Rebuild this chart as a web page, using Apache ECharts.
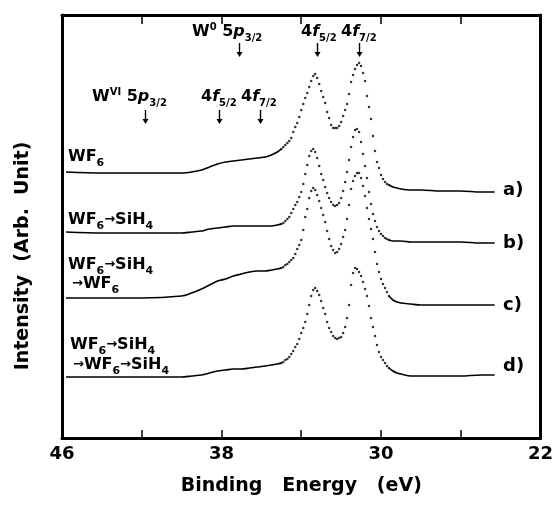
<!DOCTYPE html>
<html>
<head>
<meta charset="utf-8">
<script src="https://cdn.jsdelivr.net/npm/echarts@6/dist/echarts.min.js"></script>
<style>
html,body{margin:0;padding:0;background:#fff}
#main{width:556px;height:510px}
</style>
</head>
<body>
<div id="main"></div>
<script>
var FONT = '"DejaVu Sans", "Liberation Sans", Arial, sans-serif';

// energies (eV) of the dotted (peak) region, one point per step
var dotE = [35.0,34.9,34.8,34.7,34.6,34.5,34.4,34.3,34.2,34.1,34.0,33.9,33.8,33.7,33.6,33.5,33.4,33.3,33.2,33.1,
            33.0,32.9,32.8,32.7,32.6,32.5,32.4,32.3,32.2,32.1,32.0,31.9,31.8,31.7,31.6,31.5,31.4,31.3,31.2,31.1,
            31.0,30.9,30.8,30.7,30.6,30.5,30.4,30.3,30.2,30.1,30.0,29.9,29.8,29.7,29.6];
// energies of the solid background parts
var leftE  = [45.8,44,42,40,39.5,39,38.6,38.2,37.8,37.4,37,36.6,36.2,35.8,35.5,35.2,35.0];
var rightE = [29.6,29.4,29.2,29.0,28.5,28,27,26,25,24.3];

// a) WF6
var leftA  = [267,266,266,266,267,269,272,275,277,278,279,280,281,282,284,287,290];
var dotsA  = [290,292,294,296,298,301,307,312,316,322,329,335,341,346,352,358,363,365,361,355,
              348,342,336,327,321,314,311,311,311,313,317,323,329,335,345,357,364,370,374,376,
              373,366,358,343,332,320,303,288,277,271,264,260,257,255,254];
var rightA = [254,252,251,250,249,249,248,248,247,247];
// b) WF6 -> SiH4
var leftB  = [207,206,206,206,207,208,210,211,212,213,213,213,213,213,213,214,215];
var dotsB  = [215,216,218,220,222,226,230,234,237,242,247,255,265,274,283,288,290,287,281,273,
              265,259,252,246,241,237,234,233,234,236,241,248,257,267,279,292,302,309,310,307,
              297,285,273,261,247,235,225,218,212,208,205,203,201,200,199];
var rightB = [199,198,198,198,197,197,197,197,196,196];
// c) WF6 -> SiH4 -> WF6
var leftC  = [141,141,141,143,146,150,154,158,160,163,165,167,168,168,169,170,171];
var dotsC  = [171,172,174,175,177,179,181,185,190,194,199,209,222,230,241,248,251,249,244,238,
              231,224,217,208,200,193,189,186,187,190,195,202,209,220,234,250,258,263,266,266,
              261,253,243,231,220,210,200,187,175,167,160,155,151,147,143];
var rightC = [143,139,137,136,135,134,134,134,134,134];
// d) WF6 -> SiH4 -> WF6 -> SiH4
var leftD  = [62,62,62,62,63,64,66,68,69,70,70,71,72,73,74,75,76];
var dotsD  = [76,77,79,80,82,85,88,92,95,100,106,111,117,125,134,143,149,151,148,144,
              138,131,125,117,111,107,103,101,100,101,102,106,112,121,134,154,166,171,170,167,
              163,157,150,143,133,121,112,103,94,87,82,79,76,73,71];
var rightD = [71,68,66,65,63,63,63,63,64,64];

// peak positions marked with arrows (eV)
var arrowE = [37.1, 33.2, 31.1, 41.85, 38.1, 36.05];
var arrowRow = [0, 0, 0, 1, 1, 1];

var curves = [
  {left: leftA, dots: dotsA, right: rightA},
  {left: leftB, dots: dotsB, right: rightB},
  {left: leftC, dots: dotsC, right: rightC},
  {left: leftD, dots: dotsD, right: rightD}
];

function pairs(xs, ys) {
  return xs.map(function (x, i) { return [x, ys[i]]; });
}

var series = [];
curves.forEach(function (c) {
  series.push({type: 'line', data: pairs(leftE, c.left), smooth: 0.3, symbol: 'none',
    lineStyle: {color: '#000', width: 1.6}, silent: true});
  series.push({type: 'line', data: pairs(rightE, c.right), smooth: 0.3, symbol: 'none',
    lineStyle: {color: '#000', width: 1.6}, silent: true});
  series.push({type: 'scatter', data: pairs(dotE, c.dots), symbolSize: 2.5,
    itemStyle: {color: '#000'}, silent: true});
});

var boxLine = {show: true, lineStyle: {color: '#000', width: 3}};

var chart = echarts.init(document.getElementById('main'));
var option = {
  animation: false,
  backgroundColor: '#fff',
  grid: {left: 62, right: 14, top: 15, bottom: 72},
  xAxis: [{
    type: 'value', min: 22, max: 46, interval: 4, inverse: true, position: 'bottom',
    axisLine: boxLine,
    axisTick: {inside: true, length: 8, lineStyle: {color: '#000', width: 1.5}},
    axisLabel: {color: '#000', fontSize: 18, fontWeight: 'bold', fontFamily: FONT, margin: 7,
      formatter: function (v) { return (v - 22) % 8 === 0 ? String(v) : ''; }},
    splitLine: {show: false},
    name: 'Binding   Energy   (eV)', nameLocation: 'middle', nameGap: 39,
    nameTextStyle: {color: '#000', fontSize: 19, fontWeight: 'bold', fontFamily: FONT}
  }, {
    type: 'value', min: 22, max: 46, interval: 4, inverse: true, position: 'top',
    axisLine: boxLine,
    axisTick: {inside: true, length: 9, lineStyle: {color: '#000', width: 1.5}},
    axisLabel: {show: false},
    splitLine: {show: false}
  }],
  yAxis: [{
    type: 'value', min: 1, max: 424, position: 'left',
    axisLine: boxLine, axisTick: {show: false}, axisLabel: {show: false}, splitLine: {show: false}
  }, {
    type: 'value', min: 1, max: 424, position: 'right',
    axisLine: boxLine, axisTick: {show: false}, axisLabel: {show: false}, splitLine: {show: false}
  }],
  series: series
};
chart.setOption(option);

// text with sub/superscripts, laid out run by run
var ctx = document.createElement('canvas').getContext('2d');
var kinds = {
  n:   {size: 16, style: 'normal', dy: 0},
  it:  {size: 16, style: 'italic', dy: 0},
  sub: {size: 11, style: 'normal', dy: 4},
  fr:  {size: 10, style: 'normal', dy: 4},
  sup: {size: 10, style: 'normal', dy: -7},
  ar:  {size: 13, style: 'normal', dy: -1}
};
function textRun(parts, x0, base) {
  var els = [], x = x0;
  parts.forEach(function (p) {
    var k = kinds[p[1] || 'n'];
    var font = k.style + ' bold ' + k.size + 'px ' + FONT;
    ctx.font = font;
    var w = ctx.measureText(p[0]).width;
    els.push({type: 'text', x: x, y: base + k.dy - 0.3 * k.size, silent: true,
      style: {text: p[0], font: font, fill: '#000', align: 'left', verticalAlign: 'middle'}});
    x += w;
  });
  return els;
}

var WS = [['WF'], ['6', 'sub'], ['\u2192', 'ar'], ['SiH'], ['4', 'sub']];
var labels = [
  {x: 192, b: 37,  p: [['W'], ['0', 'sup'], [' 5'], ['p', 'it'], ['3/2', 'fr']]},
  {x: 301, b: 37,  p: [['4'], ['f', 'it'], ['5/2', 'fr']]},
  {x: 341, b: 37,  p: [['4'], ['f', 'it'], ['7/2', 'fr']]},
  {x: 92,  b: 102, p: [['W'], ['VI', 'sup'], [' 5'], ['p', 'it'], ['3/2', 'fr']]},
  {x: 201, b: 102, p: [['4'], ['f', 'it'], ['5/2', 'fr']]},
  {x: 241, b: 102, p: [['4'], ['f', 'it'], ['7/2', 'fr']]},
  {x: 68,  b: 162, p: [['WF'], ['6', 'sub']]},
  {x: 68,  b: 225, p: WS},
  {x: 68,  b: 270, p: WS},
  {x: 72,  b: 289, p: [['\u2192', 'ar'], ['WF'], ['6', 'sub']]},
  {x: 70,  b: 350, p: WS},
  {x: 73,  b: 370, p: [['\u2192', 'ar'], ['WF'], ['6', 'sub'], ['\u2192', 'ar'], ['SiH'], ['4', 'sub']]}
];
var tags = [['a)', 190], ['b)', 243], ['c)', 305], ['d)', 366]];

var gr = [];
labels.forEach(function (l) { gr = gr.concat(textRun(l.p, l.x, l.b)); });
tags.forEach(function (t) {
  gr.push({type: 'text', x: 503, y: t[1], silent: true,
    style: {text: t[0], font: 'bold 18px ' + FONT, fill: '#000', align: 'left', verticalAlign: 'middle'}});
});
var rows = [[43, 57], [110, 124]];
arrowE.forEach(function (e, i) {
  var x = Math.round(chart.convertToPixel({xAxisIndex: 0}, e)) + 0.5;
  var r = rows[arrowRow[i]];
  gr.push({type: 'line', silent: true, shape: {x1: x, y1: r[0], x2: x, y2: r[1] - 3},
    style: {stroke: '#000', lineWidth: 1.4}});
  gr.push({type: 'polygon', silent: true,
    shape: {points: [[x - 3, r[1] - 5], [x + 3, r[1] - 5], [x, r[1]]]}, style: {fill: '#000'}});
});
gr.push({type: 'text', x: 23, y: 256, rotation: Math.PI / 2, silent: true,
  style: {text: 'Intensity  (Arb.  Unit)', font: 'bold 19px ' + FONT, fill: '#000',
    align: 'center', verticalAlign: 'middle'}});

chart.setOption({graphic: gr});
window.onresize = chart.resize;
</script>
</body>
</html>
